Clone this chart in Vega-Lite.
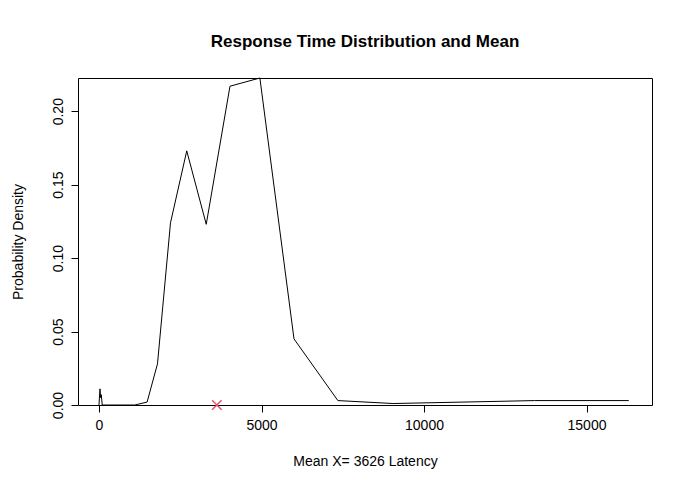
{
  "$schema": "https://vega.github.io/schema/vega-lite/v6.json",
  "width": 574,
  "height": 327,
  "autosize": "none",
  "padding": {"left": 78, "top": 78, "right": 40, "bottom": 98},
  "background": "white",
  "config": {
    "font": "Liberation Sans",
    "view": {"stroke": "black", "strokeWidth": 1},
    "axis": {"grid": false, "domain": false, "tickColor": "black", "tickSize": 7, "labelColor": "black", "labelFontSize": 14, "titleFontSize": 14, "titleFontWeight": "normal", "titleColor": "black", "labelPadding": 6}
  },
  "title": {"text": "Response Time Distribution and Mean", "fontSize": 17, "fontWeight": "bold", "offset": 25, "font": "Liberation Sans"},
  "layer": [
    {
      "data": {"values": [
        {"x": 0, "y": 0}, {"x": 30, "y": 0.011}, {"x": 50, "y": 0.005}, {"x": 70, "y": 0.007}, {"x": 100, "y": 0},
        {"x": 300, "y": 0}, {"x": 1100, "y": 0}, {"x": 1480, "y": 0.002}, {"x": 1800, "y": 0.028},
        {"x": 2200, "y": 0.124}, {"x": 2700, "y": 0.173}, {"x": 3300, "y": 0.123}, {"x": 4030, "y": 0.217},
        {"x": 4950, "y": 0.2226}, {"x": 6000, "y": 0.045}, {"x": 7350, "y": 0.003}, {"x": 9050, "y": 0.001},
        {"x": 13400, "y": 0.003}, {"x": 16300, "y": 0.003}
      ]},
      "mark": {"type": "line", "color": "black", "strokeWidth": 1},
      "encoding": {
        "x": {"field": "x", "type": "quantitative", "scale": {"domain": [-646, 17015], "nice": false, "zero": false},
          "axis": {"values": [0, 5000, 10000, 15000], "format": "d", "title": "Mean X= 3626 Latency", "titlePadding": 22}},
        "y": {"field": "y", "type": "quantitative", "scale": {"domain": [0, 0.2226], "nice": false},
          "axis": {"values": [0, 0.05, 0.1, 0.15, 0.2], "format": ".2f", "title": "Probability Density", "labelAngle": -90, "labelAlign": "center", "labelBaseline": "bottom", "titlePadding": 26}}
      }
    },
    {
      "data": {"values": [{"x": 3626, "y": 0}]},
      "mark": {"type": "point", "shape": "M-1,-1L1,1M-1,1L1,-1", "size": 90, "stroke": "#DF536B", "strokeWidth": 1.5, "filled": false, "opacity": 1},
      "encoding": {
        "x": {"field": "x", "type": "quantitative"},
        "y": {"field": "y", "type": "quantitative"}
      }
    }
  ]
}
